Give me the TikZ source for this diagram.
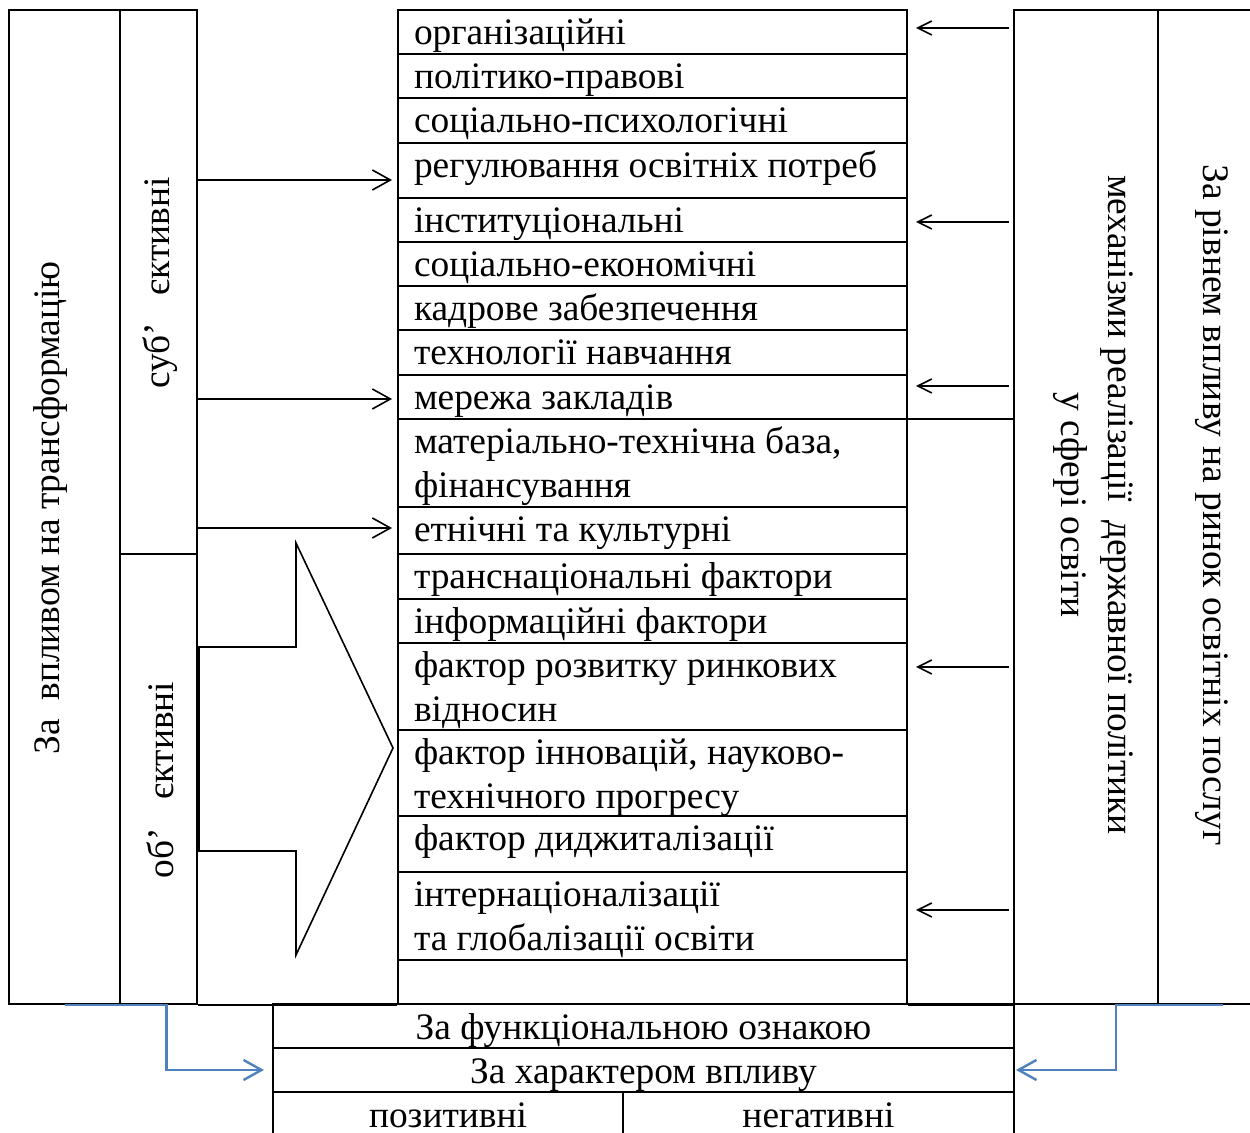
\documentclass[tikz,border=0pt]{standalone}
\usepackage{fontspec}
\setmainfont{Liberation Serif}
\usetikzlibrary{arrows.meta,fit}
\definecolor{linkblue}{RGB}{79,129,189}

\begin{document}
\begin{tikzpicture}[x=0.5pt,y=-0.5pt,line width=1pt,
  every node/.style={font=\fontsize{18.7}{22}\selectfont},
  frame/.style={draw,inner sep=0pt,line width=1pt},
  cell/.style={anchor=base west,align=left,inner sep=0pt},
  side/.style={inner sep=0pt,align=center},
  lowtext/.style={text height=14pt,text depth=0pt},
  subjarrow/.style={-{Straight Barb[length=9pt,width=10pt]},line width=0.8pt,shorten >=2.5pt},
  mecharrow/.style={-{Straight Barb[length=7pt,width=7pt]},line width=0.8pt,shorten <=2pt,shorten >=4pt},
  bluearrow/.style={-{Straight Barb[length=9pt,width=10pt]},draw=linkblue,line width=1.2pt}]
\useasboundingbox (0,0) rectangle (1250,1133);
\clip (0,0) rectangle (1250,1133);

% columns
\node[frame,fit={(9,10) (120,1004)}] (infl) {};
\node[frame,fit={(120,10) (197,554)}] (subj) {};
\node[frame,fit={(120,554) (197,1004)}] (obj) {};
\node[frame,fit={(398,10) (907,1004)}] (table) {};
\node[frame,fit={(1014,10) (1158,1004)}] (mech) {};
\node[frame,fit={(1158,10) (1258,1004)}] (level) {};
\draw (obj.south east) -- (table.south west);
\draw (table.south east) -- (mech.south west);
\draw (table.east |- 0,419) -- (mech.west |- 0,419);

% rows of the table
\draw (table.west |- 0,54) -- (table.east |- 0,54)
      (table.west |- 0,98) -- (table.east |- 0,98)
      (table.west |- 0,143) -- (table.east |- 0,143)
      (table.west |- 0,198) -- (table.east |- 0,198)
      (table.west |- 0,242) -- (table.east |- 0,242)
      (table.west |- 0,286) -- (table.east |- 0,286)
      (table.west |- 0,330) -- (table.east |- 0,330)
      (table.west |- 0,375) -- (table.east |- 0,375)
      (table.west |- 0,419) -- (table.east |- 0,419)
      (table.west |- 0,507) -- (table.east |- 0,507)
      (table.west |- 0,554) -- (table.east |- 0,554)
      (table.west |- 0,599) -- (table.east |- 0,599)
      (table.west |- 0,643) -- (table.east |- 0,643)
      (table.west |- 0,730) -- (table.east |- 0,730)
      (table.west |- 0,816) -- (table.east |- 0,816)
      (table.west |- 0,872) -- (table.east |- 0,872)
      (table.west |- 0,960) -- (table.east |- 0,960);

% two-line cells sit on the base of their last line
\node[cell] (org) at (413,45) {організаційні};
\node[cell] (polit) at (413,89) {політико-правові};
\node[cell] (psych) at (413,133) {соціально-психологічні};
\node[cell] (needs) at (413,178) {регулювання освітніх потреб};
\node[cell] (inst) at (413,233) {інституціональні};
\node[cell] (econ) at (413,277) {соціально-економічні};
\node[cell] (staff) at (413,321) {кадрове забезпечення};
\node[cell] (tech) at (413,365) {технології навчання};
\node[cell] (net) at (413,410) {мережа закладів};
\node[cell] (base) at (413,498) {матеріально-технічна база,\\фінансування};
\node[cell] (ethn) at (413,542) {етнічні та культурні};
\node[cell] (trans) at (413,589) {транснаціональні фактори};
\node[cell] (info) at (413,634) {інформаційні фактори};
\node[cell] (market) at (413,722) {фактор розвитку ринкових\\відносин};
\node[cell] (innov) at (413,809) {фактор інновацій, науково-\\технічного прогресу};
\node[cell] (digit) at (413,851) {фактор диджиталізації};
\node[cell] (glob) at (413,951) {інтернаціоналізації\\та глобалізації освіти};

% side labels
\node[side,rotate=90] (infllab) at (51,508) {За\ \ впливом на трансформацію};
\node[side,rotate=90] (subjlab) at (160,283) {суб’\ \ \ єктивні};
\node[side,rotate=90] (objlab) at (160,780) {об’\ \ \ єктивні};
\node[side,rotate=-90,font=\fontsize{18.7}{23.5}\selectfont] (mechlab) at (1093,505)
     {механізми реалізації\ \ державної політики\\у сфері освіти};
\node[side,rotate=-90] (levellab) at (1212,505) {За рівнем впливу на ринок освітніх послуг};

% bottom table
\node[frame,lowtext,minimum width=370.5pt,minimum height=22pt] (func) at (643.5,1026) {За функціональною ознакою};
\node[frame,lowtext,minimum width=370.5pt,minimum height=22pt] (char) at (643.5,1070) {За характером впливу};
\node[frame,lowtext,minimum width=175pt,minimum height=22pt] (pos) at (448,1114) {позитивні};
\node[frame,lowtext,minimum width=195.5pt,minimum height=22pt] (neg) at (818.5,1114) {негативні};

% big arrow of the objective factors
\draw[line width=0.8pt] (199,647) -- (296,647) -- (296,543) -- (393,748)
     -- (296,955) -- (296,851) -- (199,851) -- cycle;

% arrows
\draw[subjarrow] (subj.east |- 0,180) -- (table.west |- 0,180);
\draw[subjarrow] (subj.east |- 0,399) -- (table.west |- 0,399);
\draw[subjarrow] (subj.east |- 0,528) -- (table.west |- 0,528);
\draw[mecharrow] (mech.west |- 0,28) -- (table.east |- 0,28);
\draw[mecharrow] (mech.west |- 0,222) -- (table.east |- 0,222);
\draw[mecharrow] (mech.west |- 0,386) -- (table.east |- 0,386);
\draw[mecharrow] (mech.west |- 0,667) -- (table.east |- 0,667);
\draw[mecharrow] (mech.west |- 0,910) -- (table.east |- 0,910);
\draw[bluearrow,shorten >=4pt] (infl.south) -- ++(102,0) |- (char.west);
\draw[bluearrow,shorten >=0.5pt] ([xshift=7.5pt]level.south) -- ++(-107,0) |- (char.east);
\end{tikzpicture}
\end{document}
